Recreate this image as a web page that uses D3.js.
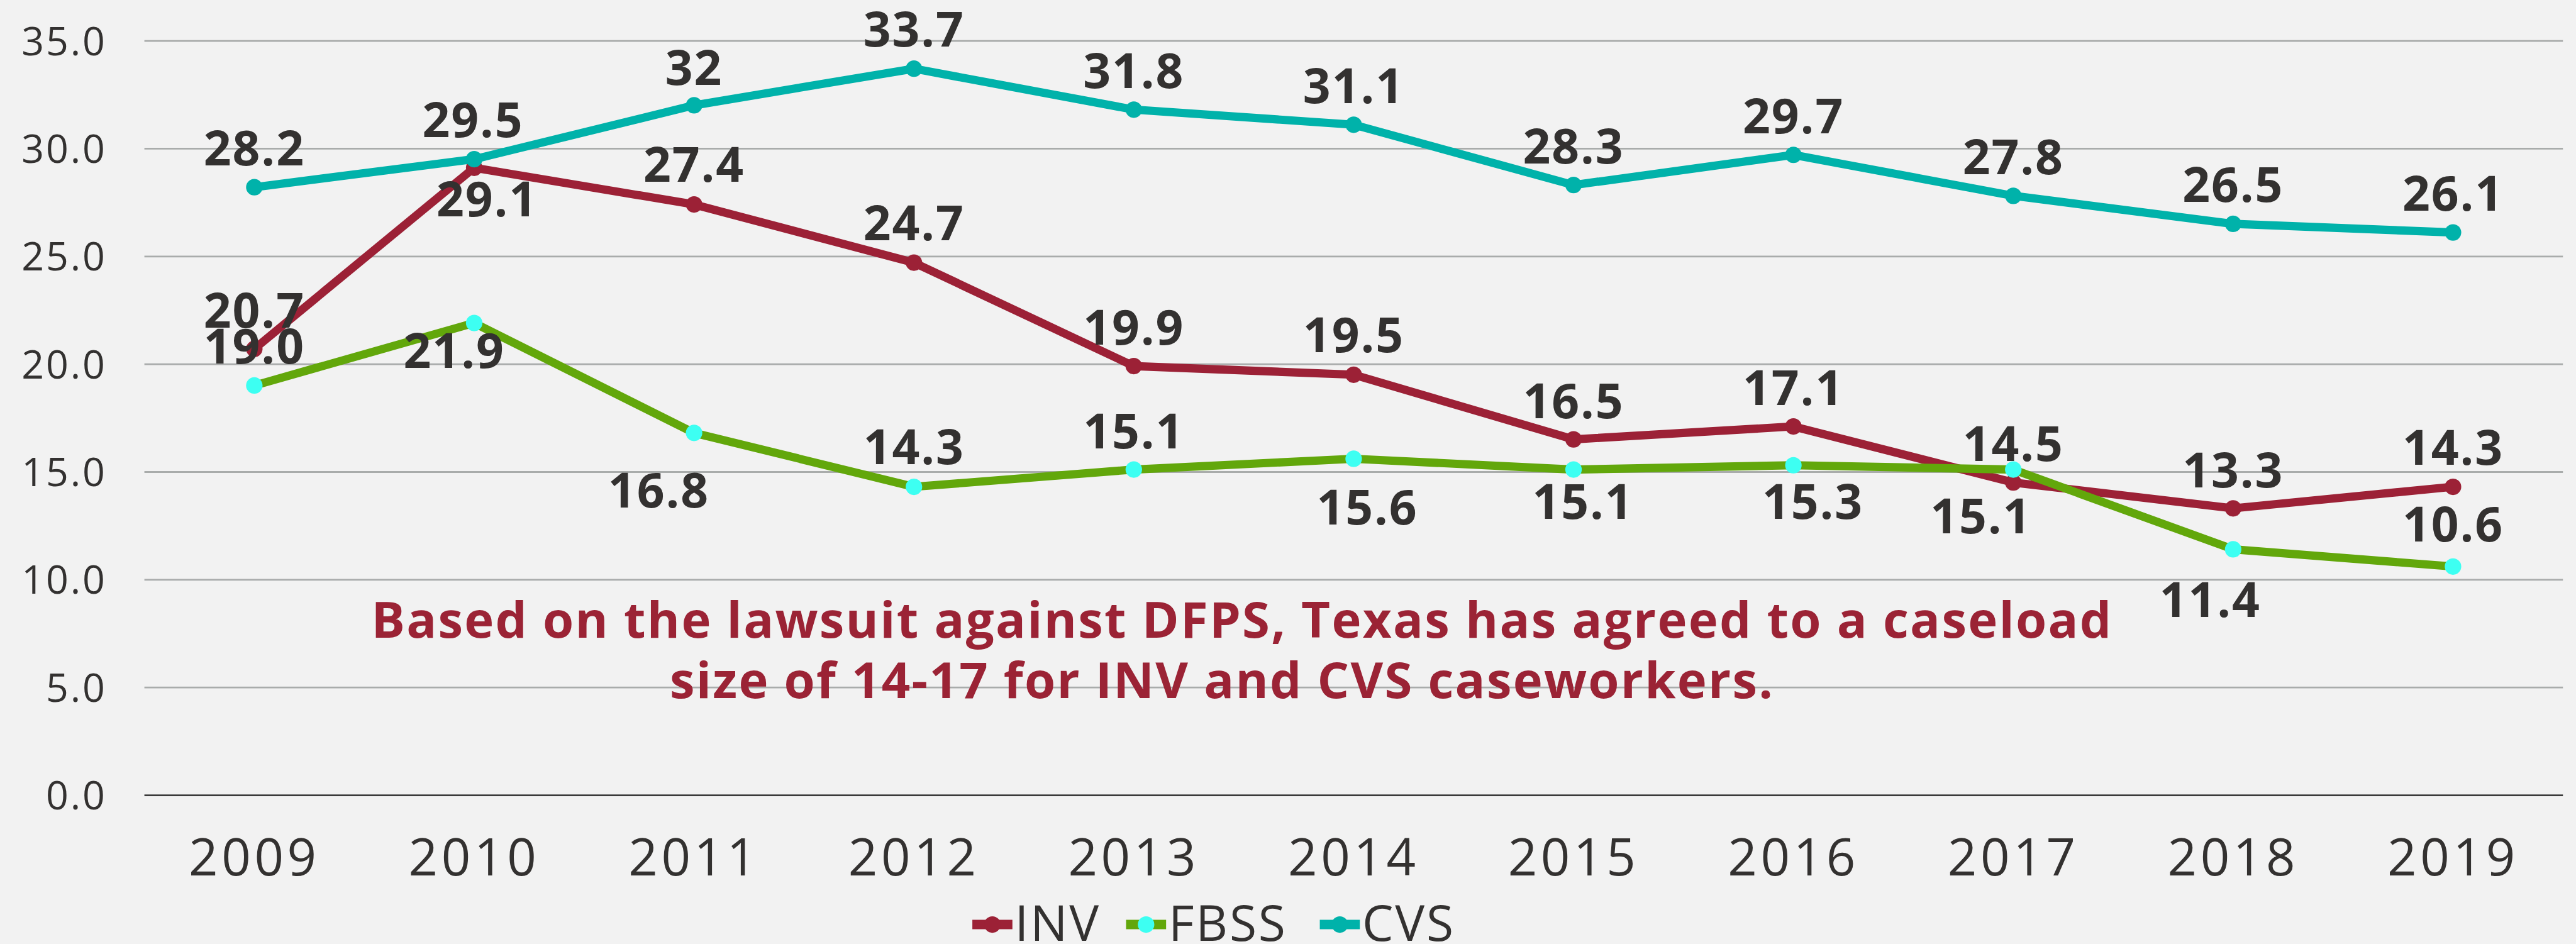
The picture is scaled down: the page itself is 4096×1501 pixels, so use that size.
<!DOCTYPE html>
<html>
<head>
<meta charset="utf-8">
<script src="https://cdn.jsdelivr.net/npm/d3@7"></script>
<style>
  html, body { margin: 0; padding: 0; background: #f2f2f2; }
  svg { display: block; }
</style>
</head>
<body>
<div id="chart"></div>
<script>
// chart values
const years = ["2009", "2010", "2011", "2012", "2013", "2014", "2015", "2016", "2017", "2018", "2019"];
const invValues = [20.7, 29.1, 27.4, 24.7, 19.9, 19.5, 16.5, 17.1, 14.5, 13.3, 14.3];
const fbssValues = [19.0, 21.9, 16.8, 14.3, 15.1, 15.6, 15.1, 15.3, 15.1, 11.4, 10.6];
const cvsValues = [28.2, 29.5, 32, 33.7, 31.8, 31.1, 28.3, 29.7, 27.8, 26.5, 26.1];
const invLabels = ["20.7", "29.1", "27.4", "24.7", "19.9", "19.5", "16.5", "17.1", "14.5", "13.3", "14.3"];
const fbssLabels = ["19.0", "21.9", "16.8", "14.3", "15.1", "15.6", "15.1", "15.3", "15.1", "11.4", "10.6"];
const cvsLabels = ["28.2", "29.5", "32", "33.7", "31.8", "31.1", "28.3", "29.7", "27.8", "26.5", "26.1"];
const yTicks = [0, 5, 10, 15, 20, 25, 30, 35];
const noteLines = ["Based on the lawsuit against DFPS, Texas has agreed to a caseload",
                   "size of 14-17 for INV and CVS caseworkers."];

// label placement (offset of the label baseline / centre from its point)
const invLabelDx = [0, 22, 0, 0, 0, 0, 0, 0, 0, 0, 0];
const invLabelDy = [-36, 82, -38, -38, -36, -38, -36, -36, -36, -36, -37];
const fbssLabelDx = [0, -34, -60, 0, 0, 23, 16, 33, -55, -39, 0];
const fbssLabelDy = [-37, 76, 127, -38, -36, 112, 84, 91, 108, 115, -43];
const cvsLabelDx = [0, -2, 0, 0, 0, 0, 0, 0, 0, 0, 0];
const cvsLabelDy = [-37, -37, -35, -38, -37, -37, -37, -37, -37, -37, -37];

const series = [
    { name: "INV", values: invValues, labels: invLabels, dx: invLabelDx, dy: invLabelDy,
      line: "#9c2136", dot: "#9c2136" },
    { name: "FBSS", values: fbssValues, labels: fbssLabels, dx: fbssLabelDx, dy: fbssLabelDy,
      line: "#62a70b", dot: "#3dfff2" },
    { name: "CVS", values: cvsValues, labels: cvsLabels, dx: cvsLabelDx, dy: cvsLabelDy,
      line: "#00b2aa", dot: "#00b2aa" }
];

// drawing is laid out in the reference's pixel space and scaled by the viewBox
const W = 4374, H = 1603;
const plot = { left: 245, right: 4352, top: 69, bottom: 1350 };
const textColor = "#333130";
const font = "'Open Sans', 'Noto Sans', sans-serif";

const svg = d3.select("#chart")
.append("svg")
.attr("width", 4096)
.attr("height", 1501)
.attr("viewBox", `0 0 ${W} ${H}`)
.style("font-family", font);

svg.append("rect")
.attr("width", W)
.attr("height", H)
.attr("fill", "#f2f2f2");

const x = d3.scaleBand()
.domain(years)
.range([plot.left, plot.right]);

const y = d3.scaleLinear()
.domain([0, 35])
.range([plot.bottom, plot.top]);

const cx = d => x(d) + x.bandwidth() / 2;

// gridlines + y labels
const yAxis = d3.axisLeft(y)
.tickValues(yTicks)
.tickFormat(d3.format(".1f"))
.tickSize(-(plot.right - plot.left))
.tickPadding(64);

const gy = svg.append("g")
.attr("transform", `translate(${plot.left},0)`)
.call(yAxis);

gy.select(".domain").remove();
gy.selectAll(".tick line")
.attr("stroke", d => d === 0 ? "#3a3a3a" : "#a9acab")
.attr("stroke-width", 3);
gy.selectAll(".tick text")
.attr("fill", textColor)
.attr("font-size", 67)
.attr("font-family", font)
.attr("letter-spacing", 3)
.attr("dy", "0.36em");

// x labels
const xAxis = d3.axisBottom(x).tickSize(0).tickPadding(0);
const gx = svg.append("g")
.attr("transform", `translate(0,${plot.bottom})`)
.call(xAxis);
gx.select(".domain").remove();
gx.selectAll(".tick text")
.attr("fill", textColor)
.attr("font-size", 87)
.attr("font-family", font)
.attr("letter-spacing", 6)
.attr("y", 137)
.attr("dy", 0);

// lines, markers, labels
const line = d3.line()
.x((d, i) => cx(years[i]))
.y(d => y(d));

series.forEach(s => {
    const g = svg.append("g").attr("class", "series-" + s.name);

    g.append("path")
    .datum(s.values)
    .attr("d", line)
    .attr("fill", "none")
    .attr("stroke", s.line)
    .attr("stroke-width", 14)
    .attr("stroke-linejoin", "round");

    g.selectAll("circle")
    .data(s.values)
    .enter()
    .append("circle")
    .attr("cx", (d, i) => cx(years[i]))
    .attr("cy", d => y(d))
    .attr("r", 14)
    .attr("fill", s.dot);
});

// labels drawn after all lines so they sit on top
series.forEach(s => {
    svg.append("g")
    .selectAll("text")
    .data(s.values)
    .enter()
    .append("text")
    .attr("x", (d, i) => cx(years[i]) + s.dx[i])
    .attr("y", (d, i) => y(d) + s.dy[i])
    .attr("text-anchor", "middle")
    .attr("font-size", 82)
    .attr("font-weight", 700)
    .attr("letter-spacing", 2)
    .attr("fill", textColor)
    .text((d, i) => s.labels[i]);
});

// note
const noteX = [2109, 2075];
const noteY = [1083, 1185];
svg.append("g")
.selectAll("text")
.data(noteLines)
.enter()
.append("text")
.attr("x", (d, i) => noteX[i])
.attr("y", (d, i) => noteY[i])
.attr("text-anchor", "middle")
.attr("font-size", 85)
.attr("font-weight", 700)
.attr("letter-spacing", 2.4)
.attr("fill", "#9b2335")
.text(d => d);

// legend
const legendX = [1685, 1946, 2275];
const legendY = 1570;
const legend = svg.append("g")
.selectAll("g")
.data(series)
.enter()
.append("g")
.attr("transform", (d, i) => `translate(${legendX[i]},${legendY})`);

legend.append("line")
.attr("x1", -34)
.attr("x2", 34)
.attr("stroke", d => d.line)
.attr("stroke-width", 16);

legend.append("circle")
.attr("r", 14)
.attr("fill", d => d.dot);

legend.append("text")
.attr("x", 38)
.attr("y", 28)
.attr("font-size", 84)
.attr("letter-spacing", 3)
.attr("fill", textColor)
.text(d => d.name);
</script>
</body>
</html>
